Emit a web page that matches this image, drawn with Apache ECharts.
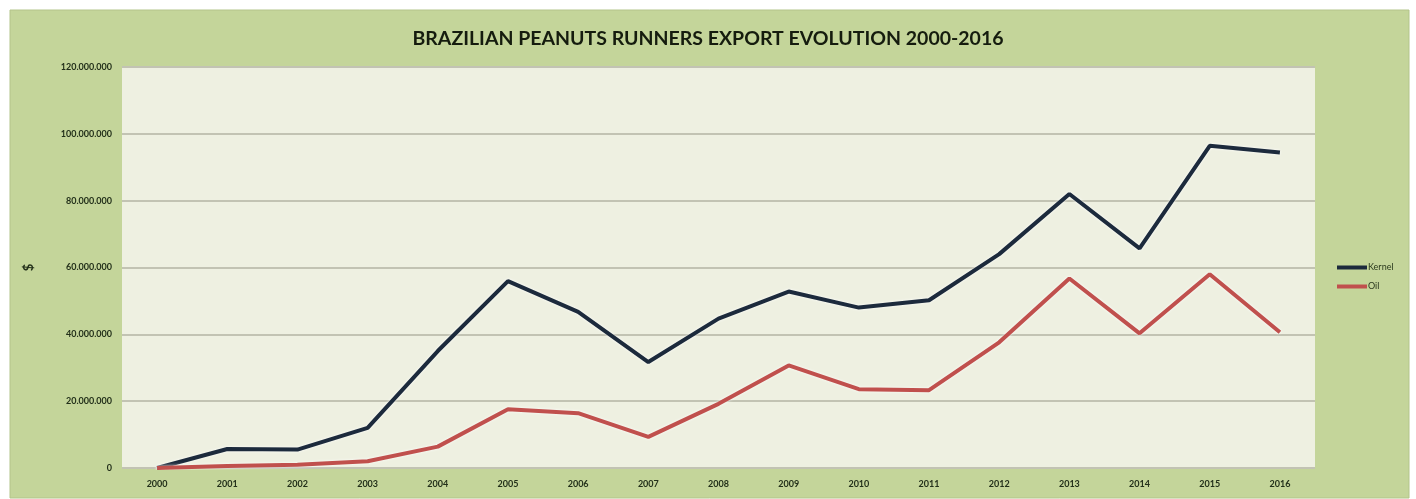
<!DOCTYPE html>
<html>
<head>
<meta charset="utf-8">
<script src="https://cdn.jsdelivr.net/npm/echarts@6/dist/echarts.min.js"></script>
<style>
  html, body { margin: 0; padding: 0; background: #ffffff; }
  #main { width: 1416px; height: 499px; }
</style>
</head>
<body>
<div id="main"></div>
<script>
// chart data
const years = ['2000', '2001', '2002', '2003', '2004', '2005', '2006', '2007', '2008',
  '2009', '2010', '2011', '2012', '2013', '2014', '2015', '2016'];
const kernel = [0, 5700000, 5500000, 12000000, 35000000, 55900000, 46700000, 31700000, 44700000,
  52800000, 48000000, 50200000, 64000000, 82000000, 65700000, 96400000, 94400000];
const oil = [0, 600000, 1000000, 2000000, 6400000, 17600000, 16400000, 9300000, 19200000,
  30700000, 23600000, 23300000, 37600000, 56700000, 40300000, 58000000, 40600000];
const seriesNames = ['Kernel', 'Oil'];

const chart = echarts.init(document.getElementById('main'), null, { renderer: 'canvas' });

// 120000000 -> "120.000.000"
function dotFmt(v) {
  return String(v).replace(/\B(?=(\d{3})+(?!\d))/g, '.');
}

const labelFont = {
  color: '#23301a',
  fontFamily: 'Lato',
  fontWeight: 'bold',
  fontSize: 9
};

const option = {
  backgroundColor: '#ffffff',
  animation: false,
  graphic: [{
    type: 'rect',
    z: -10,
    shape: { x: 10, y: 10, width: 1399, height: 488 },
    style: { fill: '#c4d59a', stroke: '#b3c48a', lineWidth: 1 }
  }],
  title: {
    text: 'BRAZILIAN PEANUTS RUNNERS EXPORT EVOLUTION 2000-2016',
    left: 'center',
    top: 24,
    textStyle: {
      color: '#151c0e',
      fontFamily: 'Lato',
      fontWeight: 'bold',
      fontSize: 19.5
    }
  },
  legend: {
    data: seriesNames,
    orient: 'vertical',
    left: 1332,
    top: 258,
    itemWidth: 30,
    itemHeight: 4,
    itemGap: 10,
    icon: 'rect',
    textStyle: { color: '#2b3a1e', fontFamily: 'Lato', fontSize: 9, padding: [0, 0, 0, -4] }
  },
  grid: {
    left: 122,
    right: 101,
    top: 67,
    bottom: 31,
    show: true,
    backgroundColor: '#eef0e1',
    borderWidth: 0
  },
  xAxis: {
    type: 'category',
    data: years,
    boundaryGap: true,
    axisLine: { show: false },
    axisTick: { show: false },
    axisLabel: Object.assign({ margin: 12 }, labelFont)
  },
  yAxis: {
    type: 'value',
    min: 0,
    max: 120000000,
    interval: 20000000,
    name: '$',
    nameLocation: 'middle',
    nameRotate: 90,
    nameGap: 87,
    nameTextStyle: { color: '#23301a', fontWeight: 'bold', fontSize: 13, fontFamily: 'Lato' },
    axisLine: { show: false },
    axisTick: { show: false },
    axisLabel: Object.assign({ margin: 10, formatter: dotFmt }, labelFont),
    splitLine: { lineStyle: { color: '#c2c3b3', width: 2 } }
  },
  series: [{
    name: seriesNames[0],
    type: 'line',
    data: kernel,
    symbol: 'none',
    color: '#1c2a3c',
    lineStyle: { width: 4, color: '#1c2a3c', shadowColor: 'rgba(255,255,255,0.9)', shadowBlur: 3 }
  }, {
    name: seriesNames[1],
    type: 'line',
    data: oil,
    symbol: 'none',
    color: '#c0504d',
    lineStyle: { width: 4, color: '#c0504d', shadowColor: 'rgba(255,255,255,0.9)', shadowBlur: 3 }
  }]
};

chart.setOption(option);
</script>
</body>
</html>
